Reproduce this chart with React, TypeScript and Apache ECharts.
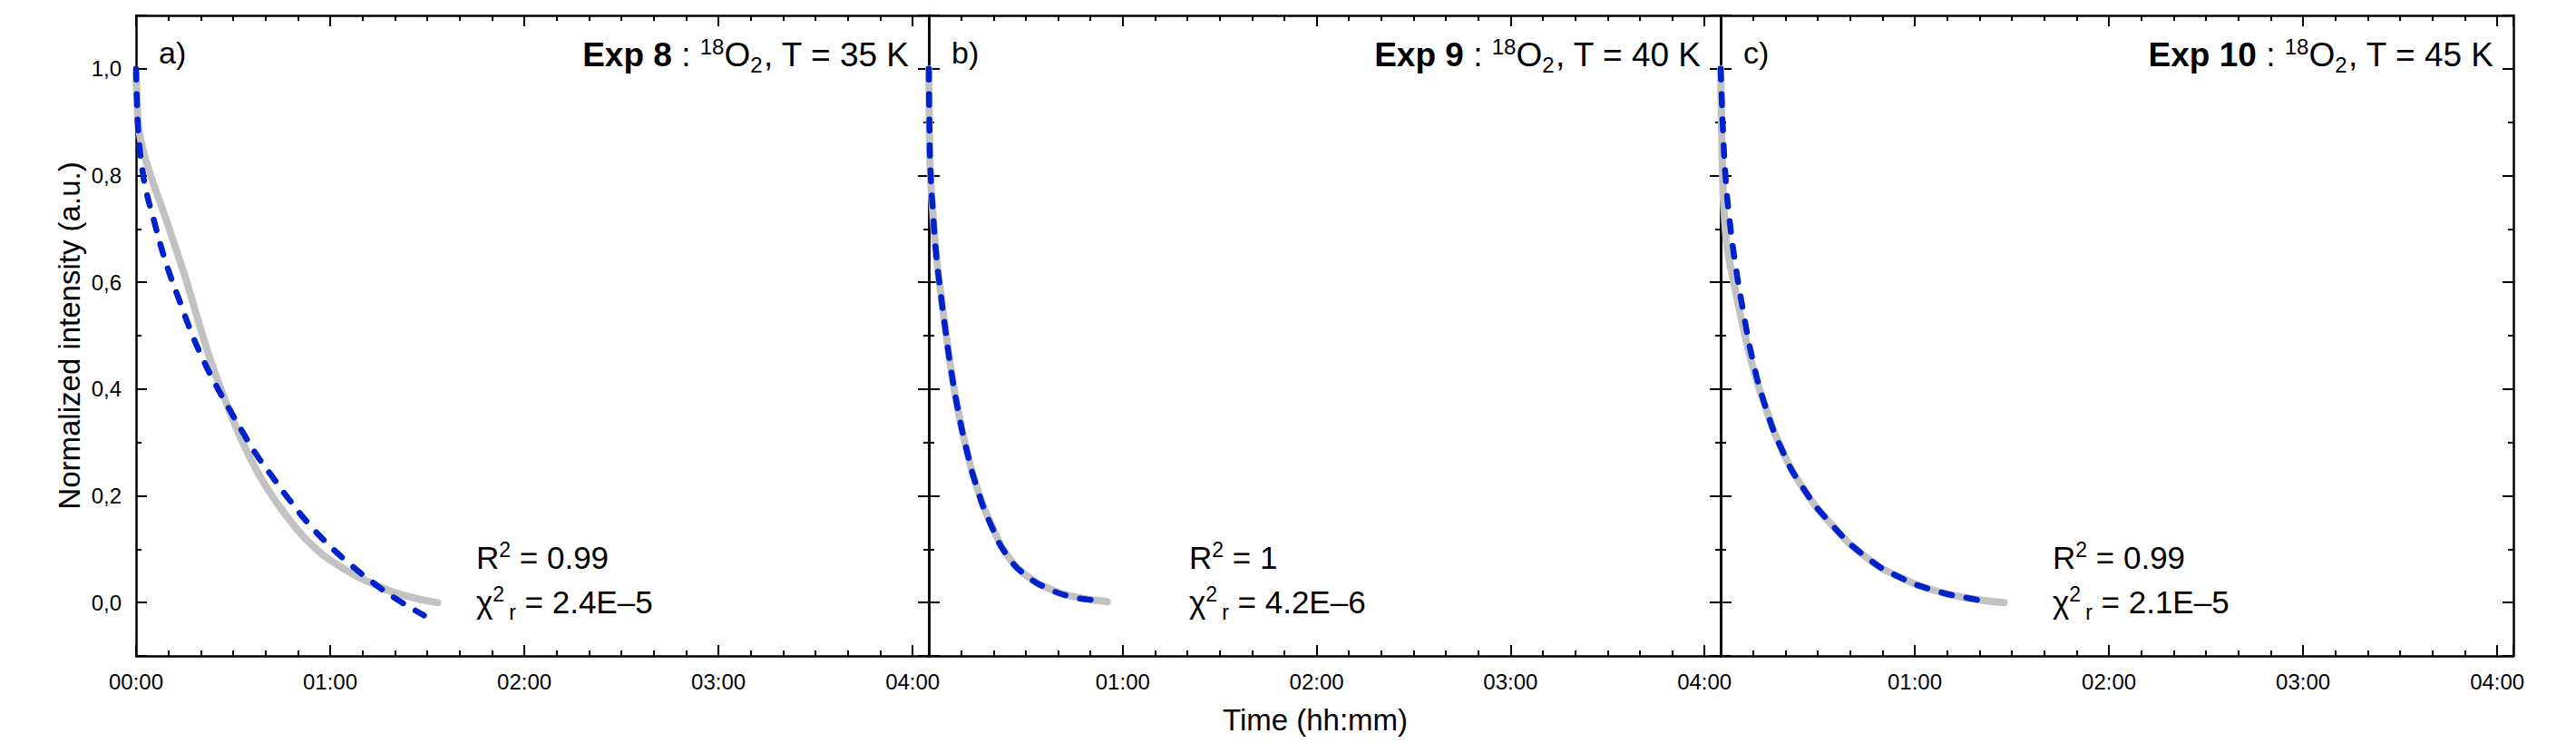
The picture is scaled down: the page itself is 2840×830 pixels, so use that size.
import React, { useEffect, useRef } from 'react';
import * as echarts from 'echarts';

// ---------- texts ----------
const panelLetters = ['a)', 'b)', 'c)'];
const experimentNames = ['Exp 8', 'Exp 9', 'Exp 10'];
const temperatureLabels = ['T = 35 K', 'T = 40 K', 'T = 45 K'];
const r2Labels = ['0.99', '1', '0.99'];
const chi2Labels = ['2.4E–5', '4.2E–6', '2.1E–5'];
const xAxisTitle = 'Time (hh:mm)';
const yAxisTitle = 'Normalized intensity (a.u.)';

// ---------- axis ranges (minutes / normalized intensity) ----------
const xMin = 0;
const xMax = 245;
const xInterval = 60;
const yMin = -0.1;
const yMax = 1.1;
const ySplitNumber = 6;

// ---------- data: experimental curves (grey) ----------
const expTimeA = [0, 0.28, 0.94, 2.6, 4.0, 5.9, 8.3, 10.6, 13.0, 15.6, 19.5, 23.8, 28.5, 33.6, 40.2, 48.6, 54.3, 62.7, 74.0, 84.3, 93.2];
const expValA = [0.99, 0.95, 0.885, 0.838, 0.81, 0.775, 0.735, 0.694, 0.65, 0.602, 0.522, 0.44, 0.365, 0.292, 0.217, 0.146, 0.108, 0.069, 0.033, 0.011, 0.0];

const expTimeB = [0, 0.19, 0.47, 1.22, 2.16, 3.56, 5.16, 6.85, 8.91, 11.5, 14.8, 19.5, 24.7, 30.8, 37.3, 44.8, 55.2];
const expValB = [1.0, 0.881, 0.807, 0.733, 0.66, 0.586, 0.512, 0.438, 0.365, 0.291, 0.217, 0.144, 0.085, 0.048, 0.026, 0.011, 0.0015];

const expTimeC = [0, 0.3, 0.75, 1.3, 2.16, 4.5, 7.1, 10.1, 13.9, 18.6, 25.2, 34.6, 44.9, 55.2, 66.5, 77.7, 87.6];
const expValC = [1.0, 0.88, 0.77, 0.71, 0.66, 0.586, 0.512, 0.438, 0.365, 0.291, 0.217, 0.144, 0.085, 0.048, 0.022, 0.007, 0.0];

// ---------- data: fitted curves (blue dashed) ----------
const fitTimeA = [0, 0.28, 0.75, 1.7, 3.1, 5.45, 7.8, 10.6, 13.9, 16.7, 20.5, 24.2, 28.5, 32.7, 36.9, 42.1, 47.7, 53.3, 59.9, 66.5, 73.1, 80.6, 89.0];
const fitValA = [1.0, 0.936, 0.877, 0.822, 0.772, 0.718, 0.665, 0.612, 0.558, 0.512, 0.458, 0.413, 0.366, 0.322, 0.28, 0.236, 0.19, 0.148, 0.106, 0.07, 0.038, 0.006, -0.024];

const fitTimeB = [0, 0.2, 0.5, 1.25, 2.2, 3.6, 5.2, 6.9, 9.0, 11.6, 14.9, 19.4, 24.5, 30.5, 37.0, 44.0, 50.5];
const fitValB = [1.0, 0.89, 0.81, 0.735, 0.658, 0.583, 0.508, 0.435, 0.362, 0.289, 0.215, 0.143, 0.086, 0.049, 0.026, 0.011, 0.005];

const fitTimeC = [0, 0.3, 0.8, 1.6, 2.7, 4.4, 7.0, 10.0, 13.8, 18.5, 25.1, 34.5, 44.8, 55.1, 66.4, 77.6, 82.8];
const fitValC = [1.0, 0.95, 0.875, 0.79, 0.72, 0.64, 0.545, 0.452, 0.368, 0.292, 0.218, 0.145, 0.086, 0.048, 0.022, 0.007, 0.002];

const expSeries = [[expTimeA, expValA], [expTimeB, expValB], [expTimeC, expValC]];
const fitSeries = [[fitTimeA, fitValA], [fitTimeB, fitValB], [fitTimeC, fitValC]];

// ---------- layout ----------
const FONT = '"Liberation Sans", Arial, Helvetica, sans-serif';
const GRID_TOP = 17;
const GRID_BOTTOM_Y = 723;
const PANEL_X = [150, 1024, 1897, 2771];
const ANNOT_OFFSET = [375, 287, 366];

const pad2 = (n: number) => (n < 10 ? '0' + n : '' + n);
const fmtTime = (v: number) => {
  if (Math.abs(v % 60) > 1e-6) return '';
  const h = Math.floor(v / 60);
  const m = Math.round(v - h * 60);
  return pad2(h) + ':' + pad2(m);
};
const fmtY = (v: number) => v.toFixed(1).replace('.', ',');
const zip = (t: number[], v: number[]) => t.map((x, i) => [x, v[i]]);

function buildOption() {
  const axisLineStyle = { color: '#000', width: 2.5 };
  const tickStyle = { color: '#000', width: 2 };
  const grid: any[] = [];
  const xAxis: any[] = [];
  const yAxis: any[] = [];
  const series: any[] = [];
  const graphic: any[] = [];

  for (let i = 0; i < 3; i++) {
    grid.push({
      left: PANEL_X[i],
      top: GRID_TOP,
      width: PANEL_X[i + 1] - PANEL_X[i],
      height: GRID_BOTTOM_Y - GRID_TOP,
      containLabel: false,
    });
    const xBase = {
      type: 'value',
      gridIndex: i,
      min: xMin,
      max: xMax,
      interval: xInterval,
      axisLine: { show: true, onZero: false, lineStyle: axisLineStyle },
      axisTick: { show: true, inside: true, length: 12, lineStyle: tickStyle },
      minorTick: { show: true, splitNumber: 6, length: 6, lineStyle: tickStyle },
      splitLine: { show: false },
      minorSplitLine: { show: false },
    };
    xAxis.push({
      ...xBase,
      position: 'bottom',
      axisLabel: {
        show: true,
        formatter: fmtTime,
        showMinLabel: i === 0,
        showMaxLabel: false,
        fontSize: 24,
        fontFamily: FONT,
        color: '#000',
        margin: 16,
      },
    });
    xAxis.push({ ...xBase, position: 'top', axisLabel: { show: false } });

    const yBase = {
      type: 'value',
      gridIndex: i,
      min: yMin,
      max: yMax,
      splitNumber: ySplitNumber,
      axisLine: { show: true, onZero: false, lineStyle: axisLineStyle },
      axisTick: { show: true, inside: true, length: 12, lineStyle: tickStyle },
      minorTick: { show: true, splitNumber: 2, length: 6, lineStyle: tickStyle },
      splitLine: { show: false },
      minorSplitLine: { show: false },
    };
    yAxis.push({
      ...yBase,
      position: 'left',
      axisLabel: {
        show: i === 0,
        formatter: fmtY,
        showMinLabel: false,
        showMaxLabel: false,
        fontSize: 24,
        fontFamily: FONT,
        color: '#000',
        margin: 16,
      },
    });
    yAxis.push({ ...yBase, position: 'right', axisLabel: { show: false } });

    series.push({
      type: 'line',
      xAxisIndex: 2 * i,
      yAxisIndex: 2 * i,
      data: zip(expSeries[i][0], expSeries[i][1]),
      showSymbol: false,
      symbol: 'none',
      smooth: 0.5,
      silent: true,
      z: 2,
      lineStyle: { color: '#c2c2c2', width: 8, cap: 'round', join: 'round' },
    });
    series.push({
      type: 'line',
      xAxisIndex: 2 * i,
      yAxisIndex: 2 * i,
      data: zip(fitSeries[i][0], fitSeries[i][1]),
      showSymbol: false,
      symbol: 'none',
      smooth: 0.5,
      silent: true,
      z: 3,
      lineStyle: { color: '#0022cc', width: 6.5, type: [12, 16], cap: 'round', join: 'round' },
    });

    // panel letter
    graphic.push({
      type: 'text',
      x: PANEL_X[i] + 25,
      y: 58,
      style: {
        text: panelLetters[i],
        fontSize: 34,
        fontFamily: FONT,
        fill: '#000',
        align: 'left',
        verticalAlign: 'middle',
      },
    });
    // title
    graphic.push({
      type: 'text',
      x: PANEL_X[i + 1] - 22,
      y: 60,
      style: {
        text: `{b|${experimentNames[i]}} : {sup|18}O{sub|2}, ${temperatureLabels[i]}`,
        fontSize: 37,
        fontFamily: FONT,
        fill: '#000',
        align: 'right',
        verticalAlign: 'middle',
        rich: {
          b: { fontSize: 37, fontWeight: 'bold', fontFamily: FONT, fill: '#000' },
          sup: { fontSize: 24, fontFamily: FONT, fill: '#000', padding: [0, 0, 17, 0] },
          sub: { fontSize: 24, fontFamily: FONT, fill: '#000', padding: [23, 0, 0, 0] },
        },
      },
    });
    // annotations
    const annRich = {
      sup: { fontSize: 23, fontFamily: FONT, fill: '#000', padding: [0, 0, 17, 0] },
      sub: { fontSize: 23, fontFamily: FONT, fill: '#000', padding: [23, 0, 0, 5] },
    };
    graphic.push({
      type: 'text',
      x: PANEL_X[i] + ANNOT_OFFSET[i],
      y: 614,
      style: {
        text: `R{sup|2} = ${r2Labels[i]}`,
        fontSize: 35,
        fontFamily: FONT,
        fill: '#000',
        align: 'left',
        verticalAlign: 'middle',
        rich: annRich,
      },
    });
    graphic.push({
      type: 'text',
      x: PANEL_X[i] + ANNOT_OFFSET[i],
      y: 663,
      style: {
        text: `χ{sup|2}{sub|r} = ${chi2Labels[i]}`,
        fontSize: 35,
        fontFamily: FONT,
        fill: '#000',
        align: 'left',
        verticalAlign: 'middle',
        rich: annRich,
      },
    });
  }

  graphic.push({
    type: 'text',
    x: 1450,
    y: 793,
    style: {
      text: xAxisTitle,
      fontSize: 33,
      fontFamily: FONT,
      fill: '#000',
      align: 'center',
      verticalAlign: 'middle',
    },
  });
  graphic.push({
    type: 'text',
    x: 76,
    y: 370,
    rotation: Math.PI / 2,
    style: {
      text: yAxisTitle,
      fontSize: 33,
      fontFamily: FONT,
      fill: '#000',
      align: 'center',
      verticalAlign: 'middle',
    },
  });

  return {
    animation: false,
    backgroundColor: '#ffffff',
    grid,
    xAxis,
    yAxis,
    series,
    graphic,
  };
}

export default function App() {
  const ref = useRef<HTMLDivElement>(null);
  useEffect(() => {
    if (!ref.current) return;
    const chart = echarts.init(ref.current, undefined, { renderer: 'svg' });
    chart.setOption(buildOption() as any);
    return () => {
      chart.dispose();
    };
  }, []);
  return (
    <div
      ref={ref}
      style={{ position: 'absolute', left: 0, top: 0, width: 2840, height: 830, background: '#fff' }}
    />
  );
}
